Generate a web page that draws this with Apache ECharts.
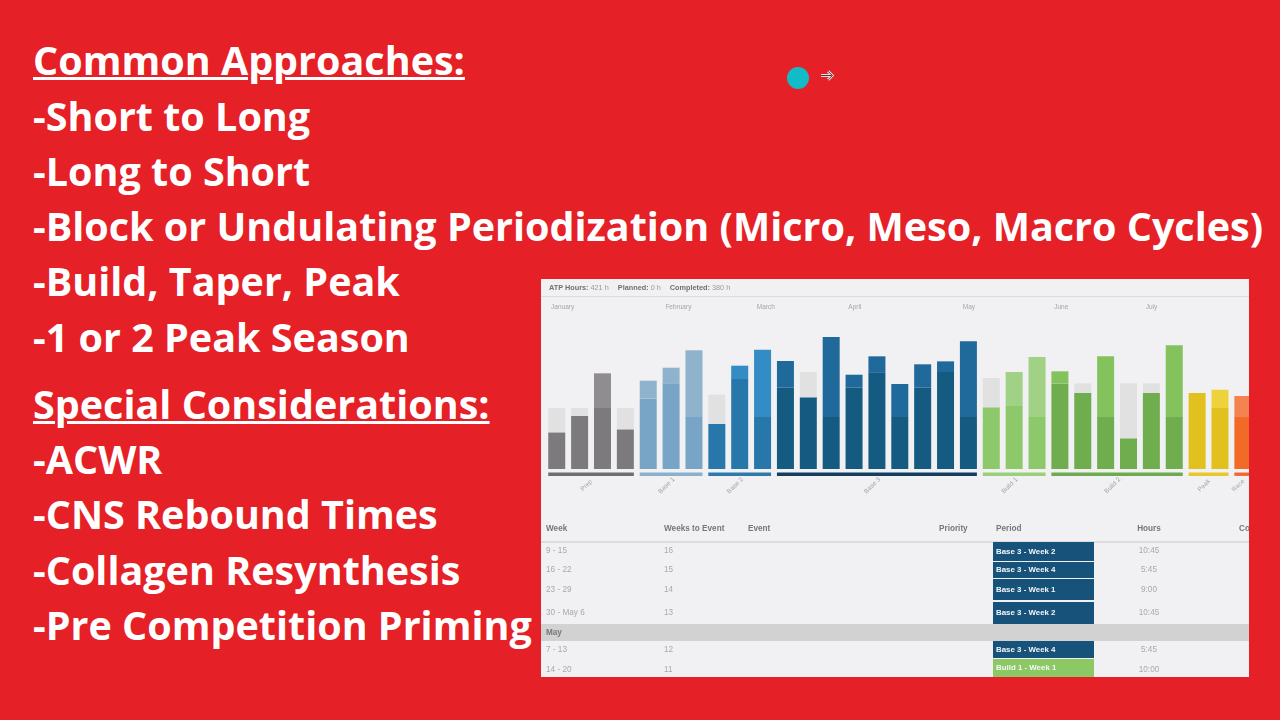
<!DOCTYPE html>
<html lang="en">
<head>
<meta charset="UTF-8">
<title>Common Approaches</title>
<style>
    html, body { margin: 0; width: 1280px; height: 720px; overflow: hidden; background: #e52026; }
    .line { position: absolute; left: 33px; color: #fff; font: 700 39.5px/46px "Open Sans", sans-serif; white-space: nowrap; }
    .line.head { text-decoration: underline; text-decoration-thickness: 3px; text-underline-offset: 2px; }
    #dot { position: absolute; left: 787px; top: 67px; width: 22px; height: 22px; border-radius: 50%; background: #12bcc6; }
    #arrow { position: absolute; left: 820px; top: 69px; }
    #panel { position: absolute; left: 541px; top: 279px; width: 708px; height: 398px; background: #f1f1f3; overflow: hidden;
             font-family: "Liberation Sans", sans-serif; filter: blur(0.5px); }
    #summary { position: absolute; left: 8px; top: 4px; font-size: 7.3px; line-height: 10px; color: #9a9a9c; white-space: nowrap; }
    #summary b { color: #707072; margin-left: 7px; }
    #summary b:first-child { margin-left: 0; }
    #rule { position: absolute; left: 0; right: 0; top: 17px; height: 1px; background: #dcdcde; }
    #chart { position: absolute; left: 0; top: 0; width: 730px; height: 230px; }
    .cell { position: absolute; white-space: nowrap; font-size: 8.2px; line-height: 12px; color: #a9a9ab; transform: translateY(-50%); }
    .cell.th { font-weight: 700; color: #77777a; }
    .cell.mid { transform: translate(-50%, -50%); }
    #thead-rule { position: absolute; left: 0; right: 0; top: 262px; height: 2px; background: #dddddf; }
    #may-band { position: absolute; left: 0; right: 0; top: 345px; height: 17px; background: #d2d2d3; }
    .period { position: absolute; left: 452px; width: 101px; box-sizing: border-box; padding-left: 3px; color: #f4f7fa; font-size: 7.9px; font-weight: 700; display: flex; align-items: center; }
</style>
</head>
<body>
<div id="lines"></div>
<div id="dot"></div>
<svg id="arrow" width="15" height="13" viewBox="0 0 14 12">
    <path d="M1 6H11M7.5 2L11.5 6L7.5 10" fill="none" stroke="#f6d9d9" stroke-width="2.6"/>
    <path d="M1 6H11M7.5 2L11.5 6L7.5 10" fill="none" stroke="#222" stroke-width="0.8"/>
</svg>
<div id="panel">
    <div id="summary"><b>ATP Hours:</b> 421 h <b>Planned:</b> 0 h <b>Completed:</b> 380 h</div>
    <div id="rule"></div>
    <div id="chart"></div>
    <div id="thead-rule"></div>
    <div id="may-band"></div>
    <div id="table"></div>
</div>
<script src="https://cdn.jsdelivr.net/npm/echarts@6/dist/echarts.min.js"></script>
<script>
    var textLines = [
        ['Common Approaches:', 60, true], ['-Short to Long', 116], ['-Long to Short', 171],
        ['-Block or Undulating Periodization (Micro, Meso, Macro Cycles)', 226],
        ['-Build, Taper, Peak', 281], ['-1 or 2 Peak Season', 337],
        ['Special Considerations:', 404, true], ['-ACWR', 459], ['-CNS Rebound Times', 514],
        ['-Collagen Resynthesis', 570], ['-Pre Competition Priming', 625]
    ];

    // week starting dates, one bar each
    var weeks = ['Jan 2', 'Jan 9', 'Jan 16', 'Jan 23', 'Jan 30', 'Feb 6', 'Feb 13', 'Feb 20', 'Feb 27', 'Mar 5', 'Mar 12',
        'Mar 19', 'Mar 26', 'Apr 2', 'Apr 9', 'Apr 16', 'Apr 23', 'Apr 30', 'May 7', 'May 14', 'May 21', 'May 28',
        'Jun 4', 'Jun 11', 'Jun 18', 'Jun 25', 'Jul 2', 'Jul 9', 'Jul 16', 'Jul 23', 'Jul 30'];
    var baseHours = [4.23, 6.12, 7.04, 4.58, 8.12, 9.88, 6, 5.19, 10.38, 6, 9.38, 8.27, 6, 9.38, 11.15, 6, 9.38, 11.19, 6,
        7.12, 7.27, 6, 9.85, 8.77, 6, 3.54, 8.77, 6, 8.77, 7.04, 6];
    var topHours = [2.81, 0.92, 4, 2.46, 2.07, 1.81, 7.69, 3.39, 1.54, 7.77, 3.08, 2.92, 9.23, 1.5, 1.85, 3.81, 2.7, 1.23, 8.73,
        3.38, 3.92, 6.92, 1.42, 1.11, 7, 6.34, 1.11, 8.27, 0, 2.11, 2.42];
    // weeks where the top part was not done, drawn grey
    var missedWeeks = [0, 1, 3, 7, 11, 19, 23, 25, 26];

    var phaseNames = ['Prep', 'Base 1', 'Base 2', 'Base 3', 'Build 1', 'Build 2', 'Peak', 'Race'];
    var phaseStart = [0, 4, 7, 10, 19, 22, 28, 30];
    var phaseEnd = [3, 6, 9, 18, 21, 27, 29, 30];
    var monthNames = ['January', 'February', 'March', 'April', 'May', 'June', 'July'];
    var monthStart = [0, 5, 9, 13, 18, 22, 26];

    var rowWeeks = ['9 - 15', '16 - 22', '23 - 29', '30 - May 6', '7 - 13', '14 - 20'];
    var rowToEvent = ['16', '15', '14', '13', '12', '11'];
    var rowPeriods = ['Base 3 - Week 2', 'Base 3 - Week 4', 'Base 3 - Week 1', 'Base 3 - Week 2', 'Base 3 - Week 4', 'Build 1 - Week 1'];
    var rowHours = ['10:45', '5:45', '9:00', '10:45', '5:45', '10:00'];

    var lowerColors = ['#7c7a7d', '#78a5c5', '#2777ab', '#155a80', '#8dc86a', '#6fad4f', '#e2c11e', '#f16a28'];
    var upperColors = ['#8f8d90', '#8fb2cd', '#338cc3', '#1f6a9b', '#a0d185', '#83c25c', '#edd23c', '#f58350'];
    var bandColors = ['#6f6d70', '#8ab0cc', '#2f79ad', '#123f61', '#9bd07a', '#6dab4f', '#e5c82d', '#f0682a'];

    var lineBox = document.getElementById('lines');
    textLines.forEach(function (l) {
        var el = document.createElement('div');
        el.className = l[2] ? 'line head' : 'line';
        el.style.top = (l[1] - 23) + 'px';
        el.textContent = l[0];
        lineBox.appendChild(el);
    });

    // table below the chart
    var table = document.getElementById('table');
    function addCell(text, x, y, cls) {
        var el = document.createElement('div');
        el.className = 'cell ' + (cls || '');
        el.style.left = x + 'px';
        el.style.top = y + 'px';
        el.textContent = text;
        table.appendChild(el);
    }
    [['Week', 5], ['Weeks to Event', 123], ['Event', 207], ['Priority', 398], ['Period', 455], ['Co', 698]].forEach(function (h) {
        addCell(h[0], h[1], 250, 'th');
    });
    addCell('Hours', 608, 250, 'th mid');
    addCell('May', 5, 353.5, 'th');

    var rowY = [271.5, 290.5, 311, 333.5, 370.5, 390.5];
    var cellTop = [262.7, 282.5, 300, 322.7, 362, 379.7];
    var cellHeight = [19, 16.5, 21, 22, 17, 18.3];
    rowWeeks.forEach(function (w, i) {
        addCell(w, 5, rowY[i]);
        addCell(rowToEvent[i], 123, rowY[i]);
        addCell(rowHours[i], 608, rowY[i], 'mid');
        var p = document.createElement('div');
        p.className = 'period';
        p.style.top = cellTop[i] + 'px';
        p.style.height = cellHeight[i] + 'px';
        p.style.background = rowPeriods[i].indexOf('Build') === 0 ? '#8cc863' : '#16527a';
        p.textContent = rowPeriods[i];
        table.appendChild(p);
    });

    function phaseOf(idx) {
        for (var i = 0; i < phaseStart.length; i++) {
            if (idx >= phaseStart[i] && idx <= phaseEnd[i]) return i;
        }
        return 0;
    }

    var chart = echarts.init(document.getElementById('chart'), null, {renderer: 'svg'});
    chart.setOption({
        animation: false,
        grid: {left: 4.3, top: 34, width: 709, height: 156},
        xAxis: {type: 'category', data: weeks, axisLine: {show: false}, axisTick: {show: false}, axisLabel: {show: false}},
        yAxis: {type: 'value', min: 0, max: 18, show: false},
        series: [
            {
                type: 'bar', stack: 'week', barWidth: 17, data: baseHours,
                itemStyle: {color: function (p) { return lowerColors[phaseOf(p.dataIndex)]; }}
            },
            {
                type: 'bar', stack: 'week', barWidth: 17, data: topHours,
                itemStyle: {color: function (p) {
                    return missedWeeks.indexOf(p.dataIndex) >= 0 ? '#e1e1e2' : upperColors[phaseOf(p.dataIndex)];
                }}
            },
            {
                // phase bands and slanted names under the bars
                type: 'custom', silent: true, clip: false,
                data: phaseNames.map(function (n, i) { return [phaseStart[i], phaseEnd[i]]; }),
                encode: {x: [0, 1]},
                renderItem: function (params, api) {
                    var i = params.dataIndex;
                    var a = api.coord([api.value(0), 0]);
                    var b = api.coord([api.value(1), 0]);
                    return {
                        type: 'group',
                        children: [
                            {type: 'rect', shape: {x: a[0] - 8.5, y: a[1] + 3.5, width: b[0] - a[0] + 17, height: 3.4},
                                style: {fill: bandColors[i]}},
                            {type: 'text', x: (a[0] + b[0]) / 2 - 5, y: a[1] + 16, rotation: Math.PI / 4,
                                style: {text: phaseNames[i], fill: '#a5a5a7', fontSize: 6.5,
                                    fontFamily: 'Liberation Sans', textAlign: 'center', textVerticalAlign: 'middle'}}
                        ]
                    };
                }
            },
            {
                type: 'custom', silent: true, clip: false,
                data: monthStart.map(function (s) { return [s]; }),
                encode: {x: 0},
                renderItem: function (params, api) {
                    var c = api.coord([api.value(0), 18]);
                    return {type: 'text', x: c[0] - 5.7, y: c[1] - 6.3,
                        style: {text: monthNames[params.dataIndex], fill: '#a5a5a7', fontSize: 6.5,
                            fontFamily: 'Liberation Sans', textAlign: 'left', textVerticalAlign: 'middle'}};
                }
            }
        ]
    });
</script>
</body>
</html>
